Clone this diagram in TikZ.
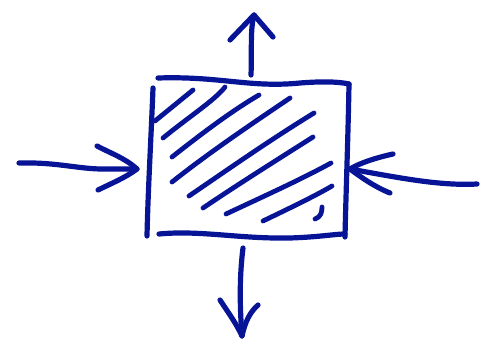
\documentclass[tikz,border=0pt]{standalone}
\usepackage{tikz}
\usetikzlibrary{calc}
\definecolor{penblue}{RGB}{8,20,150}
\tikzset{
  pen/.style={draw=penblue, line width=5.2pt, line cap=round, line join=round},
  hatch/.style={pen, line width=4.8pt},
}
\begin{document}
\begin{tikzpicture}[x=1pt,y=-1pt]
  \useasboundingbox (0,0) rectangle (484,350);
  % box corners
  \coordinate (tl) at (153,88);
  \coordinate (bl) at (147,236);
  \coordinate (tr) at (349,84);
  \coordinate (br) at (345,237);
  % box
  \draw[pen] (tl) .. controls (151,140) and (148,190) .. (bl);
  \draw[pen] (158,78) .. controls (220,76) and (250,88) .. (300,83) .. controls (325,81) and (340,82) .. (tr);
  \draw[pen] (tr) .. controls (348,140) and (346,190) .. (br);
  \draw[pen] (159,234) .. controls (200,230) and (240,239) .. (290,238) .. controls (320,237) and (335,234) .. (345,234);
  % hatching
  \draw[hatch] (155,121) -- (193,90);
  \draw[hatch] (163,138) .. controls (190,116) and (215,100) .. (225,87);
  \draw[hatch] (172,157) .. controls (200,135) and (230,112) .. (259,95);
  \draw[hatch] (172,182) .. controls (210,152) and (250,125) .. (290,98);
  \draw[hatch] (189,196) .. controls (230,168) and (270,140) .. (314,113);
  \draw[hatch] (203,208) .. controls (240,183) and (280,158) .. (313,137);
  \draw[hatch] (226,214) .. controls (260,198) and (300,180) .. (331,163);
  \draw[hatch] (263,221) .. controls (290,208) and (315,196) .. (332,186);
  \draw[hatch] (315,219) .. controls (321,217) and (322,212) .. (322,207);
  % arrow in from the left
  \coordinate (lin) at (19,163);
  \coordinate (ltip) at (137,169);
  \draw[pen] (lin) .. controls (60,162) and (80,170) .. (110,169) -- (ltip);
  \draw[pen] (97,146) .. controls (110,153) and (125,158) .. (ltip) .. controls (125,178) and (110,184) .. (98,190);
  % arrow in from the right
  \coordinate (rin) at (477,184);
  \coordinate (rtip) at (350,169);
  \draw[pen] (rin) .. controls (440,186) and (400,178) .. (rtip);
  \draw[pen] (393,154) .. controls (375,158) and (360,163) .. (rtip) .. controls (362,178) and (375,187) .. (390,193);
  % arrow out of the top
  \coordinate (tout) at (251,75);
  \coordinate (ttip) at (254,15);
  \draw[pen] (tout) .. controls (252,50) and (250,30) .. (ttip);
  \draw[pen] (230,40) -- (ttip) -- (273,37);
  % arrow out of the bottom
  \coordinate (bout) at (243,248);
  \coordinate (btip) at (242,336);
  \draw[pen] (bout) .. controls (239,280) and (240,310) .. (btip);
  \draw[pen] (220,300) .. controls (230,315) and (237,325) .. (btip) .. controls (245,322) and (250,312) .. (258,305);
\end{tikzpicture}
\end{document}
